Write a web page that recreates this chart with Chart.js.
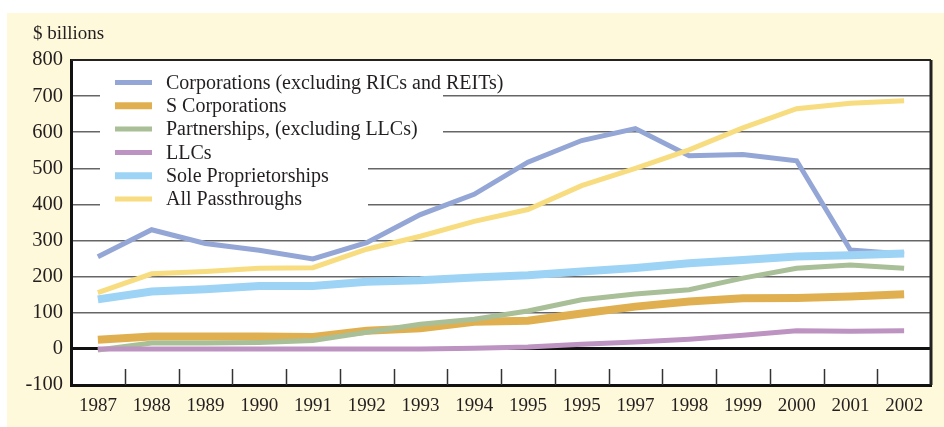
<!DOCTYPE html>
<html>
<head>
<meta charset="utf-8">
<script src="https://cdn.jsdelivr.net/npm/chart.js@4.4.1/dist/chart.umd.min.js"></script>
<style>
  html, body { margin: 0; padding: 0; background: #fff; }
  #panel { position: absolute; left: 7px; top: 13px; width: 937px; height: 414px; background: #fef9da; }
  canvas { display: block; }
</style>
</head>
<body>
<div id="panel"><canvas id="chart" width="937" height="414"></canvas></div>
<script>
// ── data ──
const years = ['1987','1988','1989','1990','1991','1992','1993','1994','1995','1995','1997','1998','1999','2000','2001','2002'];

const corporations = [255, 330, 292, 273, 249, 294, 372, 428, 517, 577, 610, 535, 538, 521, 274, 263];
const sCorporations = [25, 34, 34, 34, 33, 50, 57, 75, 78, 98, 117, 131, 140, 141, 145, 151];
const partnerships  = [-3, 16, 16, 18, 23, 46, 68, 82, 105, 136, 152, 164, 196, 223, 232, 223];
const llcs          = [0, 0, 0, 0, 0, 0, 0, 2, 5, 13, 19, 27, 38, 50, 49, 50];
const soleProps     = [137, 159, 165, 174, 174, 186, 190, 198, 204, 214, 224, 237, 246, 256, 259, 264];
const passthroughs  = [156, 208, 214, 223, 225, 276, 312, 353, 386, 452, 500, 551, 612, 665, 680, 687];

const yTicksMin = -100, yTicksMax = 800, yStep = 100;

const seriesNames = [
  'Corporations (excluding RICs and REITs)',
  'S Corporations',
  'Partnerships, (excluding LLCs)',
  'LLCs',
  'Sole Proprietorships',
  'All Passthroughs',
];
const seriesColors = ['#94a6d6', '#e0b050', '#a9bf98', '#bd93c2', '#9dd3f5', '#f7dc80'];
const seriesWidths = [5, 8, 5, 5, 8, 5];

const SERIF = '"Liberation Serif", "Times New Roman", serif';
const INK = '#231f20';

// ── frame, inner ticks, custom legend ──
const framePlugin = {
  id: 'frame',
  beforeDraw(chart) {
    const { ctx, chartArea: a } = chart;
    ctx.save();
    ctx.fillStyle = '#fff';
    ctx.fillRect(a.left, a.top, a.right - a.left, a.bottom - a.top);
    ctx.fillStyle = INK;
    ctx.font = '19px ' + SERIF;
    ctx.textBaseline = 'middle';
    ctx.fillText('$ billions', 26, 21);
    ctx.restore();
  },
  beforeDatasetsDraw(chart) {
    const { ctx, chartArea: a, scales } = chart;
    ctx.save();
    // white behind the legend block
    ctx.fillStyle = '#fff';
    ctx.fillRect(a.left + 29, a.top + 4, 343, 86);
    ctx.fillRect(a.left + 29, a.top + 88, 268, 64);

    // short inner ticks at category boundaries
    const xs = scales.x;
    ctx.strokeStyle = '#333';
    ctx.lineWidth = 1.5;
    for (let i = 1; i < years.length; i++) {
      const x = Math.round((xs.getPixelForTick(i - 1) + xs.getPixelForTick(i)) / 2) + 0.5;
      ctx.beginPath();
      ctx.moveTo(x, a.bottom);
      ctx.lineTo(x, a.bottom - 16);
      ctx.stroke();
    }

    // legend
    ctx.font = '20px ' + SERIF;
    ctx.textBaseline = 'middle';
    chart.data.datasets.forEach((ds, i) => {
      const y = a.top + 22.5 + i * 23.3;
      ctx.strokeStyle = ds.borderColor;
      ctx.lineWidth = i === 1 || i === 4 ? 7 : 5;
      ctx.beginPath();
      ctx.moveTo(a.left + 44, y);
      ctx.lineTo(a.left + 81, y);
      ctx.stroke();
      ctx.fillStyle = INK;
      ctx.fillText(ds.label, a.left + 95, y + 1);
    });
    ctx.restore();
  },
  afterDraw(chart) {
    const { ctx, chartArea: a } = chart;
    ctx.save();
    ctx.strokeStyle = '#222';
    ctx.lineWidth = 2;
    ctx.beginPath();
    ctx.moveTo(a.left, a.top);
    ctx.lineTo(a.right, a.top);
    ctx.stroke();
    ctx.lineWidth = 3;
    ctx.beginPath();
    ctx.moveTo(a.right, a.top);
    ctx.lineTo(a.right, a.bottom);
    ctx.stroke();
    ctx.restore();
  }
};

const seriesData = [corporations, sCorporations, partnerships, llcs, soleProps, passthroughs];

new Chart(document.getElementById('chart'), {
  type: 'line',
  data: {
    labels: years,
    datasets: seriesData.map((d, i) => ({
      label: seriesNames[i],
      data: d,
      borderColor: seriesColors[i],
      backgroundColor: seriesColors[i],
      borderWidth: seriesWidths[i],
      pointRadius: 0,
      tension: 0,
      fill: false,
      order: seriesData.length - i,
    }))
  },
  options: {
    responsive: false,
    animation: false,
    layout: { padding: { top: 47, right: 13, left: 0, bottom: 0 } },
    plugins: { legend: { display: false }, tooltip: { enabled: false } },
    scales: {
      x: {
        offset: true,
        afterFit: s => { s.height = 42; },
        grid: { display: false },
        border: { display: true, color: '#111', width: 3 },
        ticks: { color: INK, font: { family: SERIF, size: 19 }, padding: 2, maxRotation: 0, autoSkip: false }
      },
      y: {
        min: yTicksMin, max: yTicksMax,
        afterFit: s => { s.width = 64; },
        border: { display: true, color: '#111', width: 3 },
        grid: {
          drawTicks: false,
          color: c => (c.tick.value === 0 || c.tick.value === yTicksMin) ? '#111' : '#666',
          lineWidth: c => (c.tick.value === 0 ? 3 : 1.5),
        },
        ticks: { stepSize: yStep, color: INK, font: { family: SERIF, size: 20.5 }, padding: 8 }
      }
    }
  },
  plugins: [framePlugin]
});
</script>
</body>
</html>
